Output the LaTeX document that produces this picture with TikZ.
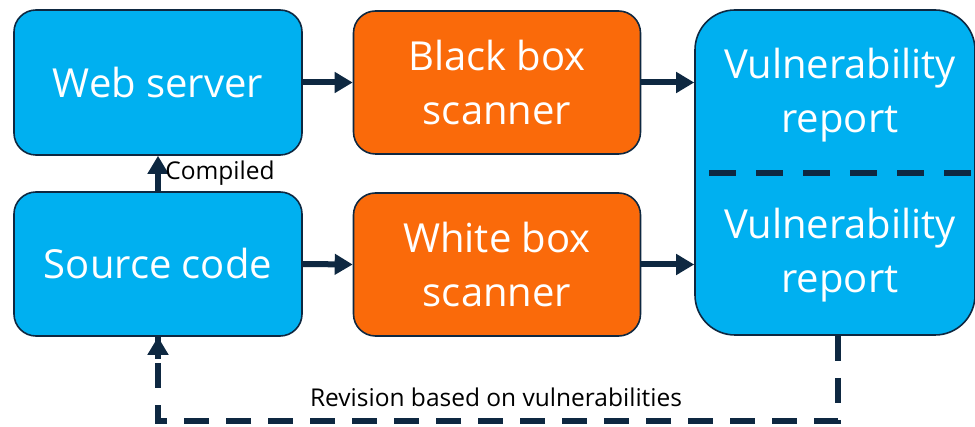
\documentclass[tikz,border=0pt]{standalone}
\usepackage{fontspec}
\setmainfont{Open Sans}
\usetikzlibrary{arrows.meta,calc}
\definecolor{boxblue}{HTML}{00B0F0}
\definecolor{boxorange}{HTML}{FA6A0A}
\definecolor{navy}{HTML}{0E2841}
\tikzset{
  bigtext/.style={text=white, align=center, font=\fontsize{40}{54}\selectfont},
  bluebox/.style={draw=navy, line width=1.6pt, fill=boxblue, rounded corners=22pt, bigtext},
  orangebox/.style={draw=navy, line width=1.6pt, fill=boxorange, rounded corners=22pt, bigtext},
  flow/.style={draw=navy, line width=6pt, -{Triangle[length=18pt,width=20pt]}},
  dashflow/.style={draw=navy, line width=6pt, dash pattern=on 25pt off 17pt},
  smalllabel/.style={text=black, font=\fontsize{24.5}{28}\selectfont},
}
\begin{document}
\begin{tikzpicture}[x=1pt,y=-1pt]
\useasboundingbox (0,0) rectangle (975,427);
\node[bluebox, minimum width=288pt, minimum height=145pt] (web) at (158,82.5) {Web server};
\node[bluebox, minimum width=288pt, minimum height=144pt] (src) at (158,264) {Source code};
\node[orangebox, minimum width=287pt, minimum height=143pt] (black) at (497,82.5) {Black box\\scanner};
\node[orangebox, minimum width=287pt, minimum height=143pt] (white) at (497,264.5) {White box\\scanner};
\node[draw=navy, line width=1.6pt, fill=boxblue, rounded corners=40pt, minimum width=280pt, minimum height=325pt] (vuln) at (835,172.5) {};
\node[bigtext] (rep1) at (840,95) {Vulnerability\\report};
\node[bigtext] (rep2) at (840,255) {Vulnerability\\report};
\coordinate (divl) at (709,173);
\coordinate (divr) at (975,173);
\draw[navy, line width=6pt, dash pattern=on 27pt off 20pt] (divl) -- (divr);
\draw[flow] (web.east) -- (black.west);
\draw[flow] (src.east) -- (white.west);
\draw[flow] (black.east) -- (black.east -| vuln.west);
\draw[flow] (white.east) -- (white.east -| vuln.west);
\draw[flow] (src.north) -- (web.south) node[midway, right, smalllabel, xshift=1pt] (comp) {Compiled};
\coordinate (fbstart) at ($(vuln.south)+(3,0)$);
\coordinate (fbcorner) at ($(vuln.south)+(3,85)$);
\draw[dashflow] (fbstart) -- (fbcorner) -| (src.south);
\draw[navy, line width=6pt, -{Triangle[length=18pt,width=20pt]}] ($(src.south)+(0,22)$) -- (src.south);
\node[smalllabel] (rev) at (496,397) {Revision based on vulnerabilities};
\end{tikzpicture}
\end{document}
